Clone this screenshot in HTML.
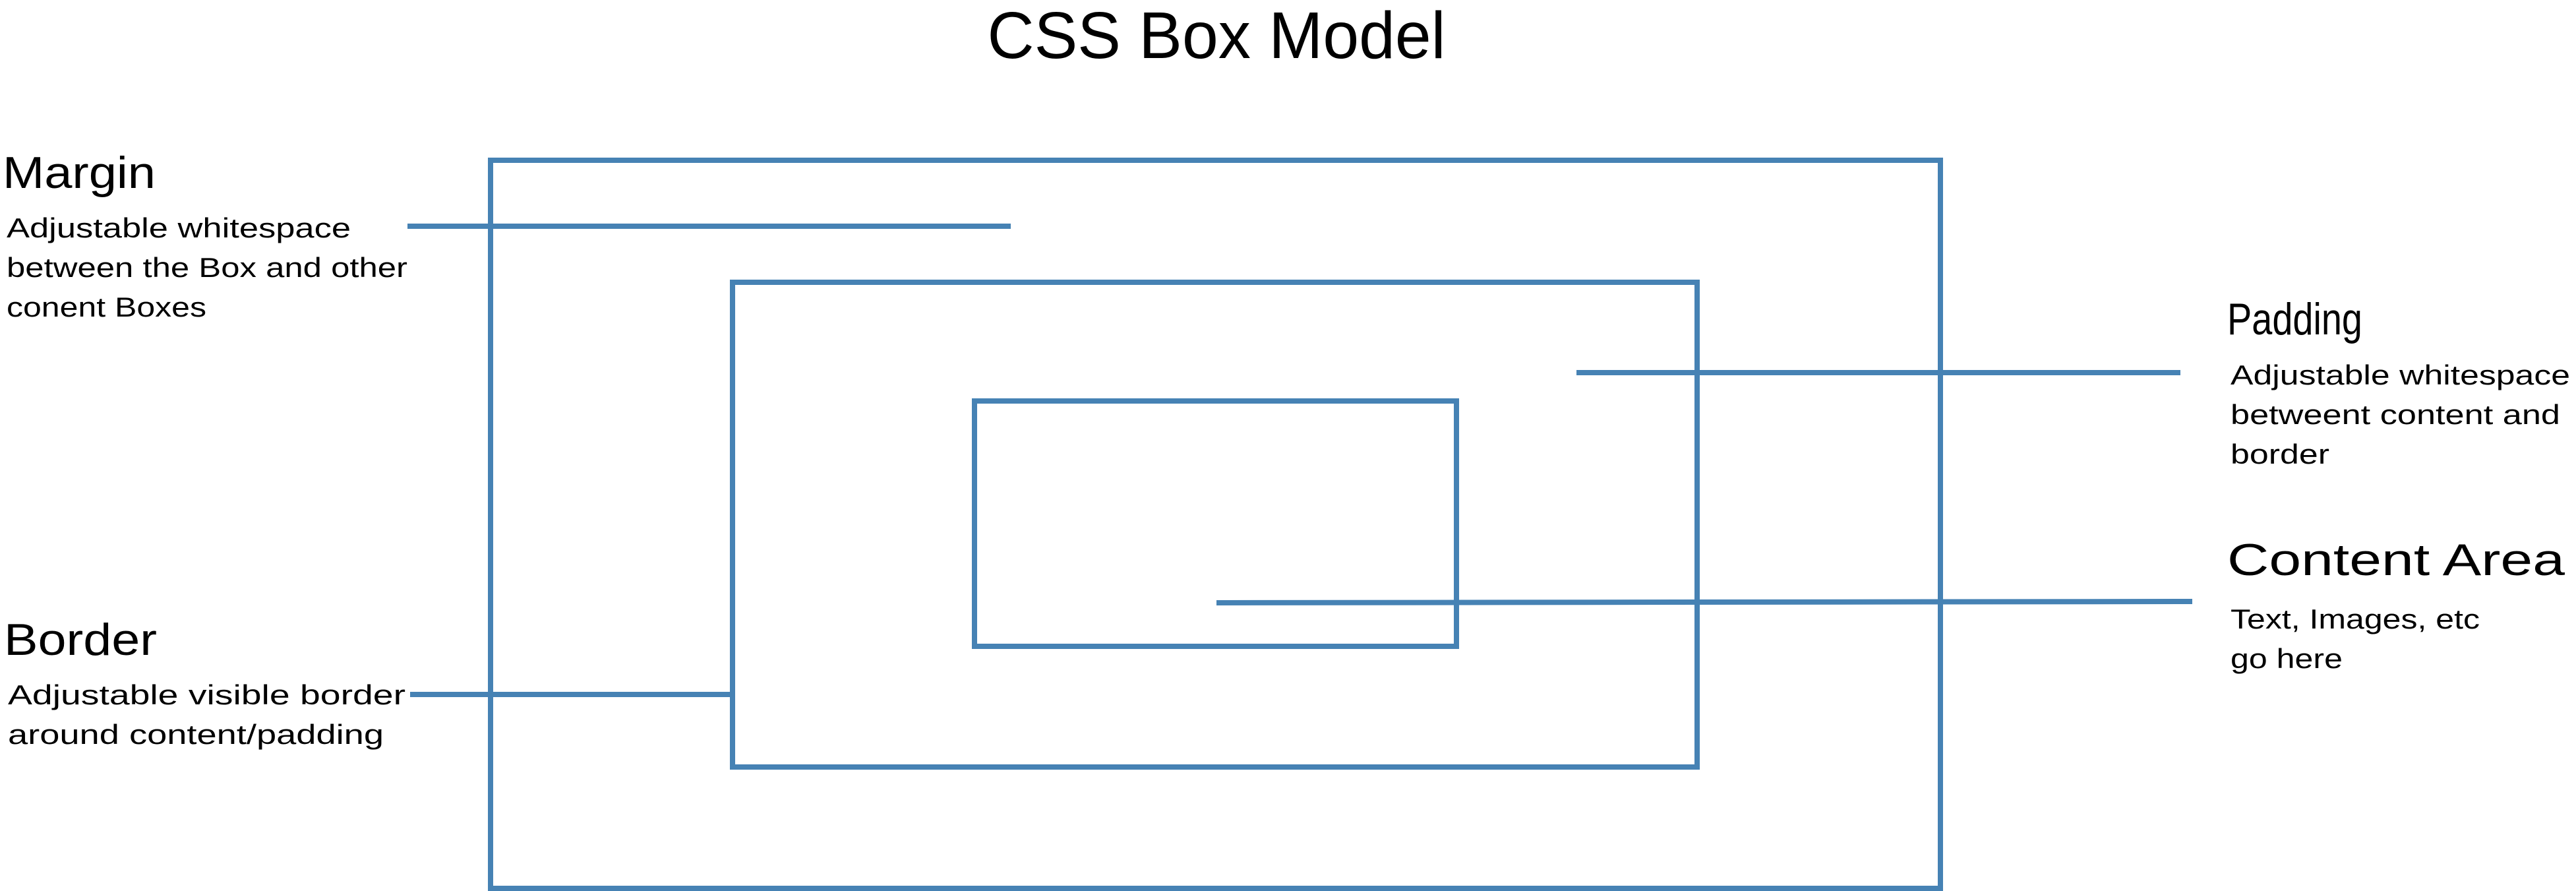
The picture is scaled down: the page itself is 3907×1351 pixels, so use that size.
<!DOCTYPE html>
<html><head><meta charset="utf-8"><style>html,body{margin:0;padding:0;background:#fff}svg{display:block}text{font-family:"Liberation Sans",sans-serif;fill:#000}</style></head>
<body>
<svg width="3907" height="1351" viewBox="0 0 3907 1351">
<text x="1845" y="88" font-size="100" text-anchor="middle" textLength="695" lengthAdjust="spacingAndGlyphs">CSS Box Model</text>
<g fill="none" stroke="#4682B4" stroke-width="8">
<rect x="744" y="243" width="2199" height="1104"/>
<rect x="1111" y="428" width="1463" height="735"/>
<rect x="1478" y="608" width="731" height="372"/>
<line x1="618" y1="343" x2="1533" y2="343"/>
<line x1="2391" y1="565" x2="3307" y2="565"/>
<line x1="1845" y1="914" x2="3325" y2="912"/>
<line x1="622" y1="1053" x2="1111" y2="1053"/>
</g>
<g>
<text x="4" y="285" font-size="68" textLength="232" lengthAdjust="spacingAndGlyphs">Margin</text>
<text x="10" y="360" font-size="42" textLength="522" lengthAdjust="spacingAndGlyphs">Adjustable whitespace</text>
<text x="10" y="420" font-size="42" textLength="608" lengthAdjust="spacingAndGlyphs">between the Box and other</text>
<text x="10" y="480" font-size="42" textLength="303" lengthAdjust="spacingAndGlyphs">conent Boxes</text>
</g>
<g>
<text x="6" y="993" font-size="68" textLength="232" lengthAdjust="spacingAndGlyphs">Border</text>
<text x="12" y="1068" font-size="42" textLength="603" lengthAdjust="spacingAndGlyphs">Adjustable visible border</text>
<text x="12" y="1128" font-size="42" textLength="570" lengthAdjust="spacingAndGlyphs">around content/padding</text>
</g>
<g>
<text x="3378" y="507" font-size="68" textLength="205" lengthAdjust="spacingAndGlyphs">Padding</text>
<text x="3383" y="583" font-size="42" textLength="515" lengthAdjust="spacingAndGlyphs">Adjustable whitespace</text>
<text x="3383" y="643" font-size="42" textLength="500" lengthAdjust="spacingAndGlyphs">betweent content and</text>
<text x="3383" y="703" font-size="42" textLength="150" lengthAdjust="spacingAndGlyphs">border</text>
</g>
<g>
<text x="3378" y="872" font-size="68" textLength="512" lengthAdjust="spacingAndGlyphs">Content Area</text>
<text x="3383" y="953" font-size="42" textLength="378" lengthAdjust="spacingAndGlyphs">Text, Images, etc</text>
<text x="3383" y="1013" font-size="42" textLength="170" lengthAdjust="spacingAndGlyphs">go here</text>
</g>
</svg>
</body></html>
